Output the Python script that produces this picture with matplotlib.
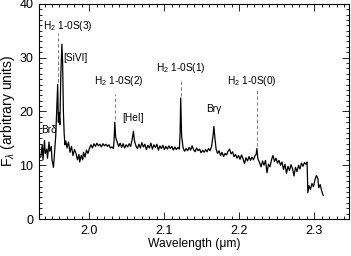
import numpy as np
import matplotlib
matplotlib.use("Agg")
import matplotlib.pyplot as plt
from matplotlib.ticker import MultipleLocator

# spectrum (wavelength in micron, flux in arbitrary units)
wave = [
    1.935, 1.937, 1.938, 1.940, 1.941, 1.943, 1.944, 1.946, 1.947, 1.949,
    1.950, 1.952, 1.9535, 1.955, 1.9565, 1.9576, 1.9585, 1.9595, 1.9605, 1.9618,
    1.9632, 1.9642, 1.9652, 1.9662, 1.9672, 1.9685, 1.970, 1.972, 1.974, 1.976,
    1.978, 1.980, 1.982, 1.984, 1.986, 1.987, 1.989, 1.991, 1.992, 1.994,
    1.996, 1.998, 2.000, 2.002, 2.004, 2.006, 2.008, 2.010, 2.012, 2.014,
    2.016, 2.018, 2.020, 2.022, 2.024, 2.026, 2.028, 2.030, 2.032, 2.0330,
    2.0338, 2.0350, 2.037, 2.039, 2.041, 2.043, 2.045, 2.047, 2.049, 2.051,
    2.053, 2.055, 2.057, 2.0587, 2.0600, 2.062, 2.064, 2.066, 2.068, 2.070,
    2.072, 2.074, 2.076, 2.078, 2.080, 2.082, 2.084, 2.086, 2.088, 2.090,
    2.092, 2.094, 2.096, 2.098, 2.100, 2.102, 2.104, 2.106, 2.108, 2.110,
    2.112, 2.114, 2.116, 2.118, 2.120, 2.1210, 2.1218, 2.1230, 2.125, 2.127,
    2.129, 2.131, 2.133, 2.135, 2.137, 2.139, 2.141, 2.143, 2.145, 2.147,
    2.149, 2.151, 2.153, 2.155, 2.157, 2.159, 2.161, 2.163, 2.1650, 2.1661,
    2.1675, 2.169, 2.171, 2.173, 2.175, 2.177, 2.179, 2.181, 2.183, 2.185,
    2.187, 2.189, 2.191, 2.193, 2.195, 2.197, 2.199, 2.201, 2.203, 2.205,
    2.207, 2.209, 2.211, 2.213, 2.215, 2.217, 2.219, 2.221, 2.2225, 2.2235,
    2.2248, 2.227, 2.229, 2.231, 2.233, 2.235, 2.237, 2.239, 2.241, 2.243,
    2.245, 2.247, 2.249, 2.251, 2.253, 2.255, 2.257, 2.259, 2.261, 2.263,
    2.265, 2.267, 2.269, 2.271, 2.273, 2.275, 2.277, 2.279, 2.281, 2.283,
    2.285, 2.287, 2.289, 2.2905, 2.2915, 2.293, 2.295, 2.297, 2.299, 2.301,
    2.303, 2.305, 2.306, 2.308, 2.310, 2.312,
]
flux = [
    11.5, 13.8, 11.0, 14.6, 12.2, 13.0, 11.3, 14.3, 12.6, 13.5,
    11.0, 9.6, 12.5, 15.5, 21.0, 25.0, 18.0, 19.8, 17.5, 27.0,
    32.5, 29.0, 20.0, 16.0, 13.8, 14.5, 13.2, 14.3, 12.4, 13.5,
    11.8, 12.9, 12.2, 11.0, 12.0, 10.6, 11.8, 11.0, 12.4, 11.5,
    12.8, 12.2, 13.1, 13.8, 13.2, 14.0, 13.5, 14.1, 13.6, 13.9,
    13.4, 14.0, 13.6, 13.9, 13.5, 13.8, 13.2, 13.4, 13.1, 15.0,
    18.0, 15.2, 14.3, 13.5, 14.1, 13.3, 14.0, 13.2, 13.8, 13.4,
    14.0, 13.5, 14.8, 16.3, 14.6, 13.6, 13.1, 13.9, 13.2, 14.2,
    13.4, 13.9, 12.9, 13.7, 13.2, 14.1, 13.0, 13.8, 13.3, 13.9,
    12.8, 13.6, 13.1, 13.7, 12.9, 13.5, 13.0, 13.6, 13.1, 13.5,
    12.8, 13.4, 12.9, 13.3, 13.0, 16.0, 22.5, 15.5, 13.2, 12.6,
    13.1, 12.7, 13.3, 12.8, 13.6, 12.9, 12.5, 13.2, 12.7, 13.0,
    12.3, 12.8, 12.4, 12.9, 12.5, 13.1, 12.7, 13.5, 15.5, 17.2,
    15.0, 13.0, 12.2, 12.7, 11.8, 12.4, 11.6, 12.2, 11.9, 12.6,
    13.0, 12.1, 12.5, 11.6, 12.0, 11.3, 11.8, 11.1, 11.9, 11.2,
    10.3, 11.4, 10.8, 11.6, 10.9, 11.5, 11.0, 11.8, 12.0, 13.1,
    11.2, 10.5, 9.7, 10.8, 10.0, 10.9, 8.6, 10.2, 9.7, 11.0,
    11.8, 10.7, 11.3, 10.4, 10.9, 10.0, 10.6, 9.2, 10.2, 8.5,
    9.8, 9.0, 10.1, 9.4, 8.0, 9.6, 8.8, 10.0, 9.3, 10.4,
    9.8, 10.5, 10.2, 10.6, 4.9, 6.2, 5.5, 6.6, 6.0, 7.3,
    8.1, 7.5, 5.8, 6.4, 5.2, 4.4,
]

# H2 lines: wavelength, label position, dashed marker extent
h2_wave = [1.9576, 2.0338, 2.1218, 2.2235]
h2_text = ["H$_2$ 1-0S(3)", "H$_2$ 1-0S(2)", "H$_2$ 1-0S(1)", "H$_2$ 1-0S(0)"]
h2_text_x = [1.9707, 2.0387, 2.1221, 2.2168]
h2_text_y = [35.9, 25.7, 28.0, 25.7]
h2_dash_top = [34.5, 23.2, 25.8, 24.4]
h2_dash_bot = [25.5, 18.5, 22.8, 13.5]

# other line labels
other_text = ["[SiVI]", "[HeI]", "Br\u03b3", "Br\u03b4"]
other_x = [1.9813, 2.0580, 2.1655, 1.9465]
other_y = [30.0, 18.7, 20.5, 16.5]

plt.rcParams['font.family'] = ['Liberation Sans', 'DejaVu Sans']
plt.rcParams['mathtext.fontset'] = 'custom'
plt.rcParams['mathtext.rm'] = 'Liberation Sans'
plt.rcParams['mathtext.it'] = 'Liberation Sans:italic'

fig = plt.figure(figsize=(3.51, 2.56), dpi=100)
ax = fig.add_axes([0.111, 0.1445, 0.883, 0.8405])

ax.plot(wave, flux, color='black', linewidth=0.9)

# dashed markers and labels
for w, t, tx, ty, d0, d1 in zip(h2_wave, h2_text, h2_text_x, h2_text_y,
                                h2_dash_top, h2_dash_bot):
    ax.plot([w, w], [d1, d0], color='0.4', linewidth=0.6,
            linestyle=(0, (4, 3)))
    ax.text(tx, ty, t, fontsize=7.3, ha='center', va='center')

for t, tx, ty in zip(other_text, other_x, other_y):
    ax.text(tx, ty, t, fontsize=7.3, ha='center', va='center')

ax.set_xlim(1.9326, 2.3463)
ax.set_ylim(0, 40)
ax.xaxis.set_major_locator(MultipleLocator(0.1))
ax.xaxis.set_minor_locator(MultipleLocator(0.01))
ax.yaxis.set_major_locator(MultipleLocator(10))
ax.yaxis.set_minor_locator(MultipleLocator(1))
ax.set_xticks([2.0, 2.1, 2.2, 2.3])
ax.set_xticklabels(['2.0', '2.1', '2.2', '2.3'])
ax.tick_params(which='both', direction='in', top=True, right=True,
               labelsize=9, width=0.6, pad=4)
ax.tick_params(which='major', length=5)
ax.tick_params(which='minor', length=2.5)
for s in ax.spines.values():
    s.set_linewidth(0.8)

ax.set_xlabel('Wavelength (\u03bcm)', fontsize=8.7, labelpad=1)
ax.set_ylabel('F$_\\lambda$ (arbitrary units)', fontsize=10, labelpad=2)

fig.savefig('out.png', dpi=100)
plt.close(fig)
